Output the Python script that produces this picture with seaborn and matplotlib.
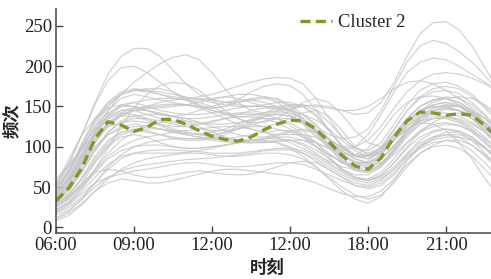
import numpy as np
import pandas as pd
import seaborn as sns
import matplotlib.pyplot as plt

# 每半小时的采样时刻 06:00 - 23:00
half_hours = [6 + 0.5 * i for i in range(35)]

# 各条背景曲线（灰色）
gray_curves = [
    [55, 80, 115, 155, 190, 212, 222, 222, 212, 195, 178, 165, 158, 155, 155, 158, 160, 158, 150, 135, 118, 102, 92, 90, 98, 118, 140, 155, 162, 163, 160, 152, 140, 125, 110],
    [40, 60, 88, 118, 145, 165, 180, 192, 203, 211, 214, 208, 192, 172, 155, 145, 142, 145, 150, 150, 140, 120, 100, 88, 85, 95, 115, 135, 150, 158, 160, 155, 145, 130, 115],
    [45, 70, 105, 135, 155, 165, 170, 172, 172, 168, 160, 152, 148, 150, 158, 168, 175, 178, 176, 165, 145, 120, 100, 88, 88, 100, 122, 145, 160, 168, 170, 166, 155, 140, 122],
    [50, 72, 102, 132, 155, 168, 172, 170, 165, 160, 158, 158, 160, 162, 160, 155, 150, 147, 147, 150, 152, 150, 145, 140, 142, 155, 180, 212, 240, 254, 255, 245, 225, 198, 170],
    [42, 62, 90, 120, 145, 160, 165, 162, 158, 155, 152, 150, 148, 150, 155, 160, 162, 160, 152, 140, 125, 115, 110, 112, 122, 145, 175, 205, 225, 232, 228, 218, 205, 188, 170],
    [35, 55, 85, 115, 140, 152, 155, 150, 145, 142, 140, 140, 142, 145, 148, 150, 150, 147, 140, 128, 112, 100, 95, 100, 115, 140, 168, 192, 205, 210, 208, 200, 190, 180, 170],
    [15, 22, 35, 50, 62, 70, 75, 78, 80, 82, 84, 85, 86, 88, 90, 92, 95, 96, 96, 92, 85, 75, 65, 58, 55, 60, 72, 88, 100, 108, 112, 112, 108, 98, 85],
    [8, 15, 28, 45, 60, 72, 80, 85, 88, 90, 92, 92, 90, 88, 88, 90, 92, 92, 90, 85, 75, 62, 50, 40, 35, 40, 55, 75, 92, 102, 108, 108, 102, 90, 75],
    [52, 85, 115, 135, 148, 152, 150, 145, 140, 137, 135, 135, 137, 140, 142, 142, 140, 135, 127, 115, 100, 85, 72, 65, 65, 75, 95, 118, 135, 145, 148, 145, 135, 118, 100],
    [30, 38, 52, 72, 98, 125, 148, 165, 176, 180, 178, 170, 158, 145, 135, 128, 125, 128, 135, 142, 145, 138, 120, 100, 90, 95, 112, 132, 145, 150, 150, 145, 135, 122, 110],
    [35, 50, 72, 98, 118, 130, 135, 135, 132, 128, 125, 122, 120, 120, 122, 127, 132, 135, 135, 130, 118, 100, 82, 70, 68, 78, 98, 120, 135, 142, 142, 138, 130, 118, 105],
    [28, 40, 60, 85, 105, 118, 122, 120, 115, 110, 108, 108, 110, 115, 122, 130, 137, 142, 142, 135, 120, 102, 85, 72, 68, 75, 92, 112, 128, 135, 137, 133, 125, 112, 95],
    [38, 58, 85, 112, 130, 138, 138, 133, 126, 120, 115, 112, 110, 108, 106, 105, 105, 106, 108, 108, 105, 98, 90, 82, 78, 80, 90, 105, 118, 125, 128, 126, 120, 110, 98],
    [22, 32, 50, 70, 88, 100, 108, 112, 115, 118, 120, 122, 124, 125, 125, 122, 118, 112, 105, 98, 90, 82, 75, 72, 75, 85, 102, 120, 132, 138, 138, 132, 122, 108, 92],
    [48, 70, 98, 125, 142, 150, 150, 145, 140, 138, 140, 145, 150, 155, 158, 158, 155, 150, 145, 140, 133, 122, 108, 95, 88, 92, 108, 128, 145, 155, 160, 162, 160, 152, 140],
    [32, 45, 68, 95, 118, 132, 138, 140, 140, 138, 135, 130, 125, 120, 115, 112, 112, 115, 120, 122, 118, 108, 95, 85, 80, 85, 100, 120, 138, 148, 152, 150, 142, 130, 115],
    [25, 35, 55, 80, 100, 112, 115, 112, 105, 100, 98, 98, 100, 102, 105, 108, 110, 110, 108, 102, 92, 80, 70, 62, 60, 68, 85, 105, 120, 128, 130, 127, 118, 105, 90],
    [45, 68, 100, 130, 152, 165, 170, 170, 168, 165, 162, 158, 155, 152, 150, 150, 152, 155, 155, 150, 138, 120, 102, 90, 88, 98, 120, 145, 162, 172, 175, 172, 162, 148, 130],
    [20, 30, 48, 68, 85, 95, 100, 102, 102, 100, 98, 98, 100, 102, 105, 108, 108, 105, 98, 88, 75, 60, 45, 35, 30, 38, 58, 82, 100, 110, 115, 115, 110, 98, 85],
    [30, 48, 75, 105, 128, 140, 145, 145, 142, 138, 132, 125, 118, 112, 108, 108, 110, 114, 118, 120, 118, 110, 98, 88, 85, 92, 110, 130, 145, 152, 155, 150, 140, 125, 108],
    [35, 52, 78, 100, 115, 122, 125, 125, 122, 118, 115, 112, 110, 110, 112, 115, 118, 120, 120, 115, 105, 92, 80, 75, 78, 90, 108, 122, 130, 128, 120, 105, 85, 60, 40],
    [42, 62, 90, 118, 138, 150, 155, 158, 160, 160, 158, 155, 150, 142, 135, 130, 130, 135, 145, 155, 160, 155, 140, 120, 105, 100, 108, 125, 142, 152, 155, 152, 143, 130, 115],
    [26, 36, 52, 72, 92, 108, 118, 125, 130, 132, 132, 130, 128, 128, 130, 133, 135, 135, 130, 120, 105, 88, 72, 62, 58, 64, 80, 100, 118, 130, 138, 142, 142, 135, 120],
    [55, 75, 100, 122, 138, 145, 145, 140, 135, 130, 128, 128, 130, 135, 140, 145, 148, 148, 145, 135, 120, 102, 88, 80, 80, 90, 108, 125, 138, 145, 148, 145, 138, 125, 110],
    [18, 25, 38, 55, 72, 85, 92, 95, 96, 96, 95, 94, 92, 92, 92, 94, 96, 98, 98, 95, 88, 78, 68, 60, 58, 65, 80, 98, 112, 120, 122, 118, 108, 92, 75],
    [40, 58, 82, 108, 128, 140, 145, 148, 150, 152, 152, 150, 145, 140, 137, 138, 142, 148, 152, 152, 145, 130, 112, 98, 92, 98, 115, 135, 150, 158, 160, 155, 145, 128, 110],
    [48, 68, 95, 125, 150, 165, 170, 168, 165, 162, 160, 162, 165, 170, 175, 180, 184, 186, 185, 178, 160, 135, 112, 98, 95, 105, 128, 152, 170, 178, 180, 175, 165, 150, 135],
    [30, 42, 60, 82, 102, 115, 120, 122, 122, 120, 118, 115, 112, 110, 108, 108, 110, 112, 112, 108, 100, 90, 80, 72, 70, 78, 95, 115, 128, 135, 137, 135, 128, 118, 105],
    [60, 78, 98, 115, 125, 130, 132, 130, 128, 125, 125, 128, 132, 135, 137, 137, 135, 130, 122, 112, 100, 90, 82, 78, 82, 95, 115, 132, 145, 150, 150, 145, 135, 120, 105],
    [12, 20, 35, 55, 75, 90, 100, 105, 108, 110, 110, 110, 108, 106, 105, 105, 106, 108, 108, 104, 96, 85, 72, 62, 58, 62, 75, 92, 108, 118, 122, 120, 112, 98, 82],
    [36, 55, 82, 110, 130, 142, 148, 150, 152, 153, 152, 148, 142, 135, 128, 122, 118, 115, 115, 115, 112, 105, 95, 85, 80, 85, 100, 120, 138, 148, 152, 150, 140, 125, 110],
    [28, 40, 62, 88, 108, 118, 120, 118, 115, 112, 110, 110, 112, 118, 125, 132, 138, 140, 138, 130, 115, 98, 82, 72, 70, 78, 96, 118, 135, 145, 150, 150, 145, 135, 120],
    [50, 78, 115, 152, 182, 198, 200, 192, 180, 168, 158, 150, 145, 142, 140, 140, 140, 140, 138, 132, 122, 110, 98, 90, 90, 98, 115, 135, 150, 158, 162, 160, 152, 138, 120],
    [42, 60, 88, 115, 135, 145, 148, 148, 148, 150, 152, 155, 158, 162, 165, 165, 162, 155, 145, 132, 118, 108, 100, 100, 108, 125, 148, 168, 182, 190, 192, 190, 185, 178, 168],
    [22, 30, 45, 62, 78, 88, 92, 92, 92, 92, 93, 95, 98, 102, 105, 107, 107, 105, 100, 92, 82, 72, 62, 55, 52, 58, 72, 90, 105, 112, 115, 112, 102, 88, 72],
    [38, 55, 80, 105, 125, 138, 145, 150, 155, 158, 160, 160, 158, 155, 152, 150, 150, 150, 152, 152, 150, 148, 145, 145, 150, 160, 172, 180, 182, 178, 170, 160, 148, 135, 122],
    [33, 48, 70, 95, 115, 125, 128, 126, 122, 118, 116, 116, 118, 122, 128, 134, 140, 144, 145, 140, 128, 110, 92, 80, 75, 80, 95, 115, 132, 142, 146, 145, 140, 130, 118],
    [45, 65, 92, 118, 135, 142, 140, 135, 128, 122, 118, 115, 115, 118, 122, 125, 125, 122, 118, 112, 105, 98, 92, 88, 88, 95, 108, 122, 132, 135, 135, 130, 120, 105, 90],
    [10, 18, 30, 45, 55, 60, 58, 55, 55, 58, 62, 66, 70, 72, 72, 70, 68, 66, 64, 60, 55, 48, 42, 38, 38, 45, 60, 78, 92, 100, 102, 98, 88, 72, 55],
    [25, 38, 55, 68, 72, 70, 65, 62, 62, 65, 68, 70, 68, 66, 65, 66, 70, 75, 80, 82, 80, 72, 62, 52, 48, 52, 65, 85, 102, 112, 118, 118, 112, 100, 85],
    [18, 28, 42, 55, 62, 66, 70, 72, 75, 78, 80, 80, 78, 76, 75, 76, 78, 80, 80, 78, 72, 65, 58, 52, 50, 55, 68, 85, 98, 105, 108, 105, 95, 80, 62],
]

# Cluster 2 曲线
cluster_values = [33, 49, 74, 110, 131, 127, 119, 124, 134, 134, 128, 120, 113, 109,
                  107, 112, 121, 128, 133, 132, 122, 106, 89, 76, 72, 86, 112, 132,
                  143, 142, 139, 141, 139, 126, 110]

tick_hours = [6, 9, 12, 15, 18, 21]
tick_labels = ['06:00', '09:00', '12:00', '12:00', '18:00', '21:00']

# 整理成长表
rows = []
for i, curve in enumerate(gray_curves):
    for h, v in zip(half_hours, curve):
        rows.append({'curve': i, 'hour': h, 'value': v})
df_gray = pd.DataFrame(rows)
df_cluster = pd.DataFrame({'hour': half_hours, 'value': cluster_values})

sns.set_style('ticks')
plt.rcParams['font.family'] = ['Liberation Serif', 'Noto Sans CJK SC', 'DejaVu Sans']

fig = plt.figure(figsize=(4.91, 2.79), dpi=100)
ax = fig.add_axes([0.114, 0.165, 0.886, 0.803])

sns.lineplot(data=df_gray, x='hour', y='value', units='curve', estimator=None,
             color='#c6c6c6', lw=0.85, alpha=0.8, ax=ax, legend=False)
sns.lineplot(data=df_cluster, x='hour', y='value', color='#7d9a2a', lw=2.4,
             linestyle=(0, (3.0, 1.6)), ax=ax, label='Cluster 2')

ax.set_xlim(6, 22.73)
ax.set_ylim(-7, 271)
ax.set_xticks(tick_hours)
ax.set_xticklabels(tick_labels)
ax.set_yticks([0, 50, 100, 150, 200, 250])
ax.tick_params(direction='in', length=5, width=1, colors='#444444', labelcolor='#222222',
               labelsize=13.5, pad=3)
for s in ['left', 'bottom']:
    ax.spines[s].set_color('#555555')
    ax.spines[s].set_linewidth(1.2)
sns.despine(ax=ax)

ax.set_xlabel('时刻', fontsize=12.5, fontweight='bold', labelpad=4, x=0.486)
ax.set_ylabel('频次', fontsize=12.5, fontweight='bold', labelpad=2)

ax.legend(loc='upper left', bbox_to_anchor=(0.523, 1.05), frameon=False,
          handlelength=1.7, handletextpad=0.35, fontsize=13.3)

fig.savefig('out.png', dpi=100)
